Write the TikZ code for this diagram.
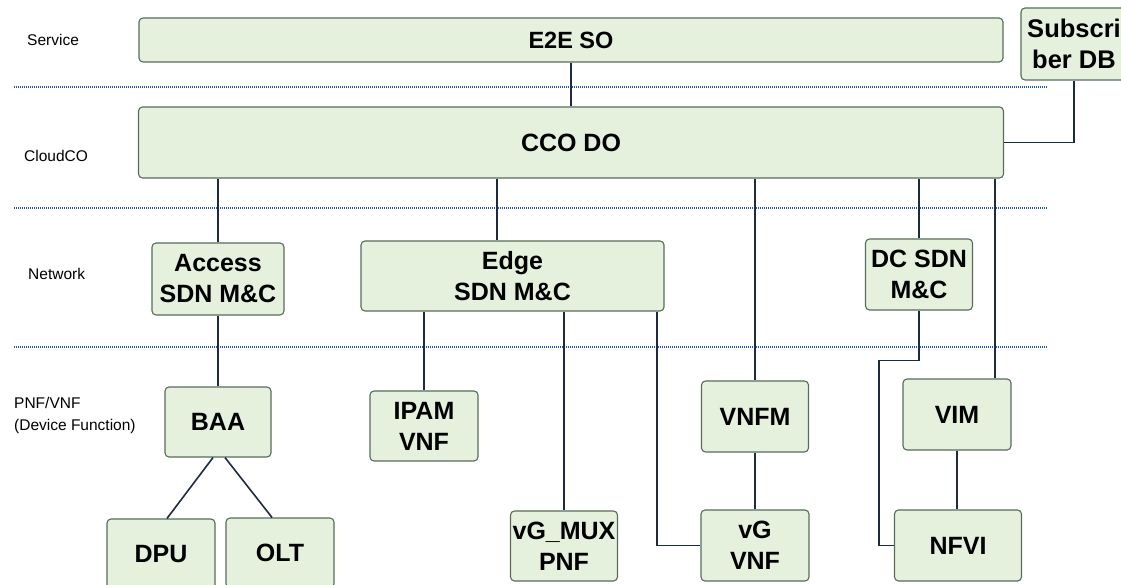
\documentclass[tikz,border=0pt]{standalone}
\usepackage{fontspec}
\setmainfont{Liberation Sans}
\definecolor{boxfill}{RGB}{230,241,221}
\definecolor{boxdraw}{RGB}{88,108,92}
\definecolor{conn}{RGB}{30,42,66}
\definecolor{sep}{RGB}{35,85,190}
\begin{document}
\begin{tikzpicture}[x=1pt,y=-1pt,
  box/.style={draw=boxdraw,fill=boxfill,line width=1.1pt,rounded corners=4pt,
    inner sep=0pt,align=center,font=\bfseries\fontsize{25}{31}\selectfont},
  wire/.style={draw=conn,line width=1.6pt},
  sepline/.style={draw=sep,line width=1.2pt,dash pattern=on 1pt off 1pt},
  lbl/.style={anchor=west,inner sep=0pt,align=left,font=\fontsize{15.5}{22}\selectfont}]
\useasboundingbox (0,0) rectangle (1121,585);
% separators
\draw[sepline] (14,87) -- (1047,87);
\draw[sepline] (14,208) -- (1047,208);
\draw[sepline] (14,347) -- (1047,347);
% left labels
\node[lbl] (lsvc) at (27,40) {Service};
\node[lbl] (lcco) at (24,156) {CloudCO};
\node[lbl] (lnet) at (28,274) {Network};
\node[lbl] (lpnf) at (14,415) {PNF/VNF\\(Device Function)};
% boxes
\node[box,minimum width=864pt,minimum height=44pt,font=\bfseries\fontsize{23.5}{28}\selectfont] (e2e) at (571,40) {E2E SO};
\node[box,minimum width=106pt,minimum height=72pt,font=\bfseries\fontsize{25.5}{31}\selectfont] (sub) at (1074,44) {Subscri\\ber DB};
\node[box,minimum width=865pt,minimum height=71pt] (cco) at (571,142.5) {CCO DO};
\node[box,minimum width=132pt,minimum height=72pt] (access) at (218,279) {Access\\SDN M\&C};
\node[box,minimum width=303pt,minimum height=70pt] (edge) at (512.5,276) {Edge\\SDN M\&C};
\node[box,minimum width=107pt,minimum height=71pt] (dcsdn) at (919,274.5) {DC SDN\\M\&C};
\node[box,minimum width=106pt,minimum height=70pt] (baa) at (218,422) {BAA};
\node[box,minimum width=108pt,minimum height=70pt] (dpu) at (161,554) {DPU};
\node[box,minimum width=108pt,minimum height=70pt] (olt) at (280,553) {OLT};
\node[box,minimum width=108pt,minimum height=70pt] (ipam) at (424,426) {IPAM\\VNF};
\node[box,minimum width=107pt,minimum height=70pt] (vgmux) at (564,546) {vG\_MUX\\PNF};
\node[box,minimum width=107pt,minimum height=71pt] (vnfm) at (755,416.5) {VNFM};
\node[box,minimum width=108pt,minimum height=71pt] (vgvnf) at (755,545.5) {vG\\VNF};
\node[box,minimum width=108pt,minimum height=71pt] (vim) at (957,414.5) {VIM};
\node[box,minimum width=127pt,minimum height=71pt] (nfvi) at (958,545.5) {NFVI};
% connectors
\draw[wire] (e2e.south) -- (cco.north);
\draw[wire] (sub.south) |- (cco.east);
\draw[wire] (access.north) -- (access.north |- cco.south);
\draw[wire] ([xshift=-15.5pt]edge.north) -- ([xshift=-15.5pt]edge.north |- cco.south);
\draw[wire] (vnfm.north) -- (vnfm.north |- cco.south);
\draw[wire] (dcsdn.north) -- (dcsdn.north |- cco.south);
\draw[wire] ([xshift=38pt]vim.north) -- ([xshift=38pt]vim.north |- cco.south);
\draw[wire] (access.south) -- (baa.north);
\draw[wire] ([xshift=-5pt]baa.south) -- ([xshift=6pt]dpu.north);
\draw[wire] ([xshift=7pt]baa.south) -- ([xshift=-8pt]olt.north);
\draw[wire] (ipam.north) -- (ipam.north |- edge.south);
\draw[wire] (vgmux.north) -- (vgmux.north |- edge.south);
\draw[wire] ([xshift=144.5pt]edge.south) |- (vgvnf.west);
\draw[wire] (vnfm.south) -- (vgvnf.north);
\draw[wire] (dcsdn.south) -- ++(0,50) -- ++(-40,0) |- (nfvi.west);
\draw[wire] (vim.south) -- (vim.south |- nfvi.north);
\end{tikzpicture}
\end{document}
